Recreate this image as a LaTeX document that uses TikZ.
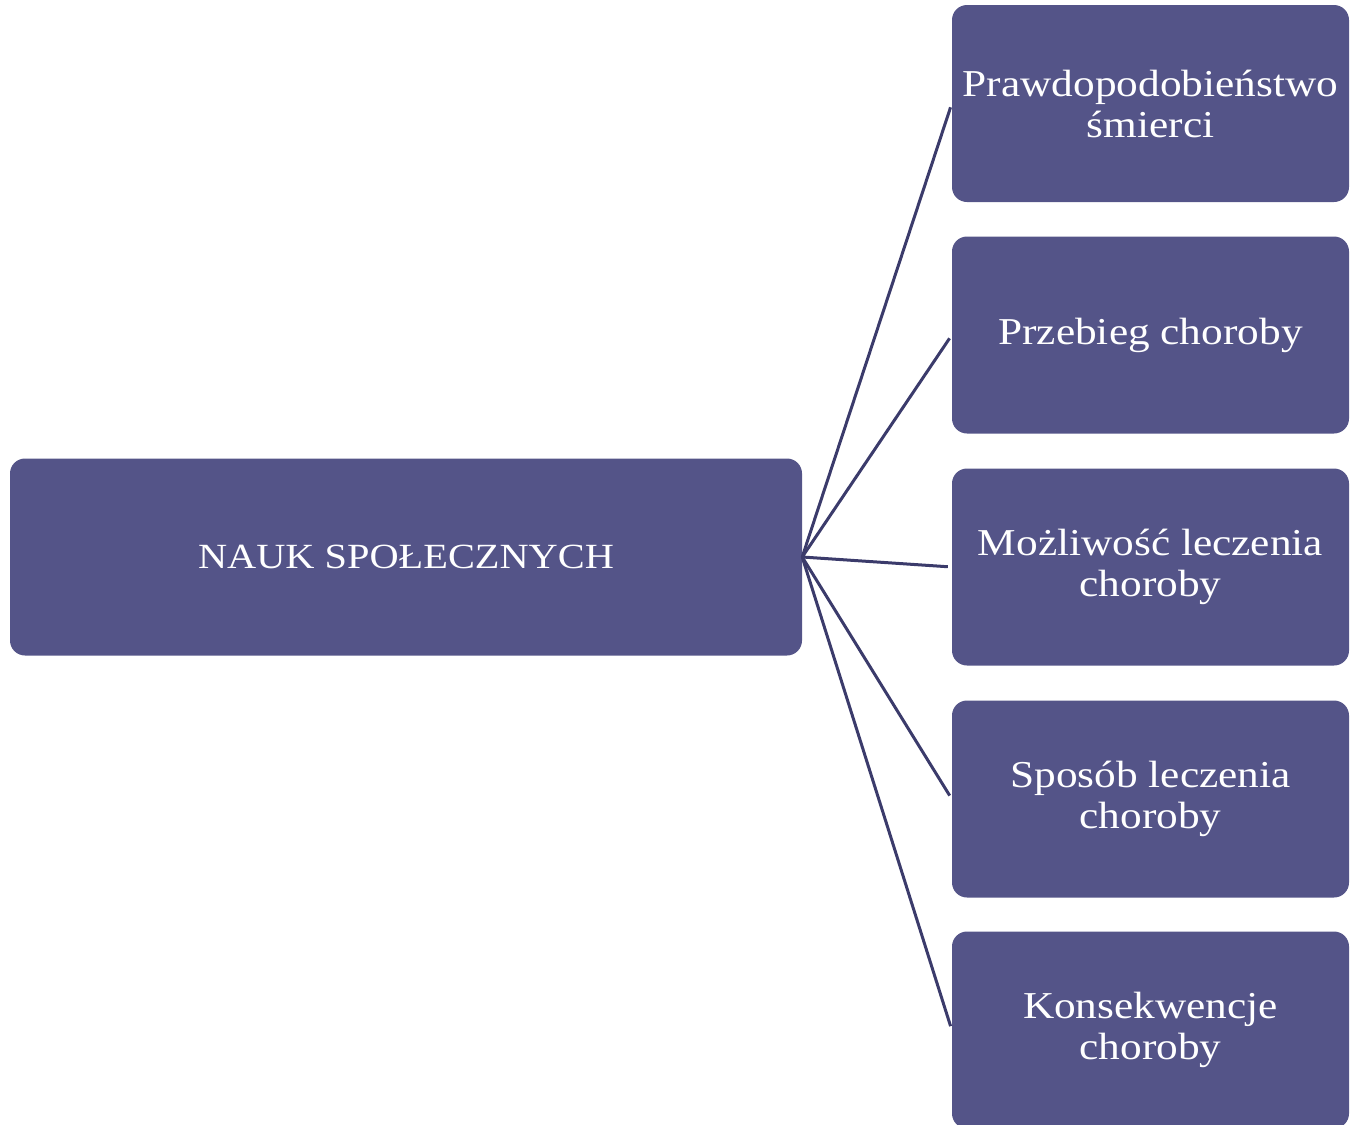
\documentclass[tikz,border=0pt]{standalone}
\usepackage{fontspec}
\setmainfont{Liberation Serif}[FakeStretch=1.14]
\definecolor{boxc}{HTML}{545488}
\definecolor{linec}{HTML}{3B3B6B}
\begin{document}
\begin{tikzpicture}[x=1pt,y=-1pt,
 box/.style={fill=boxc, rounded corners=15pt, text=white, align=center,
   font=\fontsize{38}{41}\selectfont, inner sep=0pt},
 leaf/.style={box, minimum width=397pt, minimum height=197pt},
 conn/.style={draw=linec, line width=3pt, shorten >=4pt}]
\useasboundingbox (0,0) rectangle (1350,1125);
\node[box, minimum width=792pt, minimum height=197pt, font=\fontsize{35.4}{40}\selectfont] (root) at (406,557) {NAUK SPOŁECZNYCH};
\node[leaf] (b1) at (1150.5,103.5) {Prawdopodobieństwo\\śmierci};
\node[leaf] (b2) at (1150.5,335) {Przebieg choroby};
\node[leaf] (b3) at (1150.5,567) {Możliwość leczenia\\choroby};
\node[leaf] (b4) at (1150.5,799) {Sposób leczenia\\choroby};
\node[leaf] (b5) at (1150.5,1030) {Konsekwencje\\choroby};
\foreach \b in {b1,b2,b3,b4,b5}
  \draw[conn] (root.east) -- (\b.west);
\end{tikzpicture}
\end{document}
